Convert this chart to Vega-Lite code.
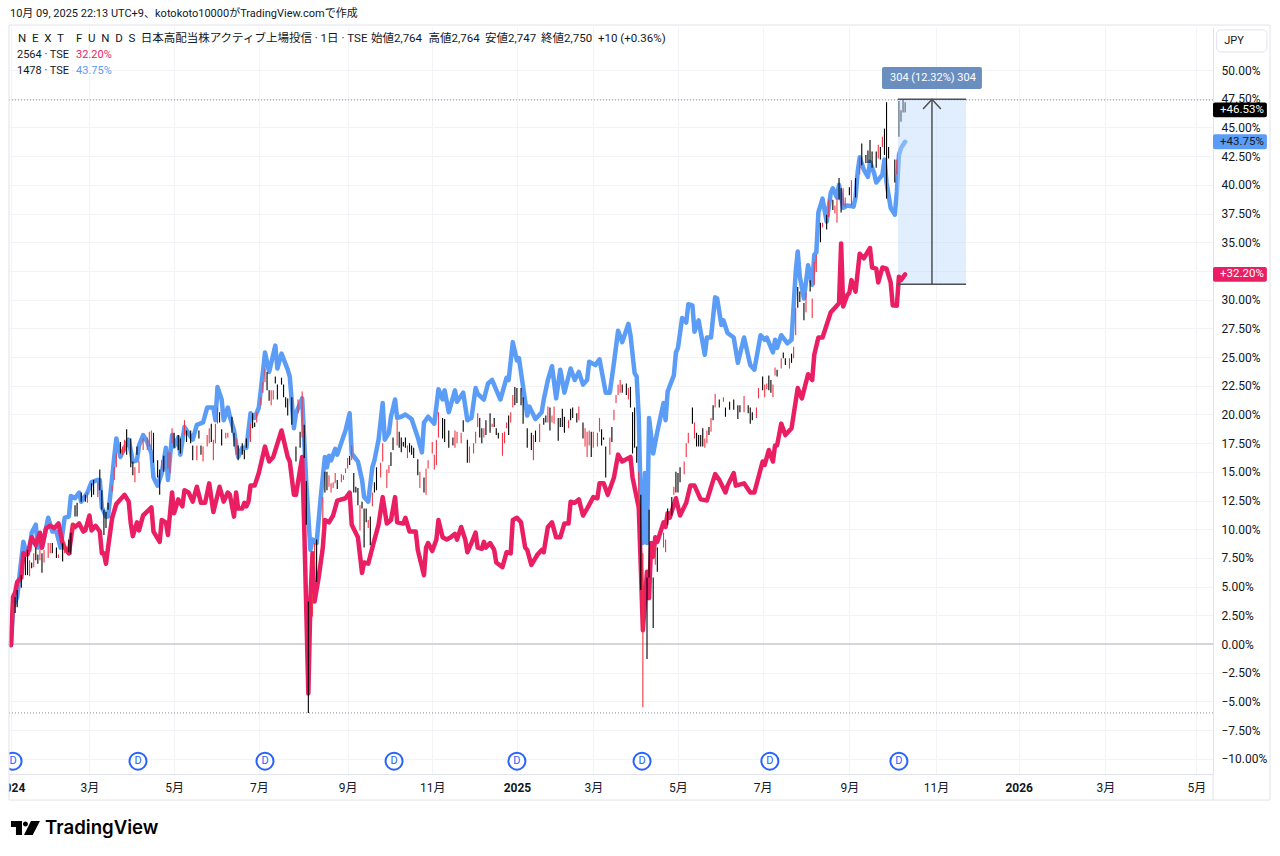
{
  "$schema": "https://vega.github.io/schema/vega-lite/v6.json",
  "width": 1204,
  "height": 747,
  "autosize": {"type": "none"},
  "padding": {"left": 9, "top": 27, "right": 67, "bottom": 82},
  "background": "white",
  "datasets": {
    "s2564": [
      {"session":0,"pct":-0.1},{"session":1,"pct":4.1},{"session":2,"pct":4.5},{"session":3,"pct":5.4},{"session":5,"pct":5.8},{"session":6,"pct":7.9},{"session":8,"pct":7.8},{"session":10,"pct":9.3},{"session":12,"pct":8.6},{"session":14,"pct":9.7},{"session":15,"pct":8.4},{"session":17,"pct":10.1},{"session":19,"pct":10.3},{"session":21,"pct":10.1},{"session":23,"pct":10.5},{"session":25,"pct":8.8},{"session":26,"pct":8.4},{"session":28,"pct":7.9},{"session":30,"pct":10.4},{"session":31,"pct":10.2},{"session":33,"pct":10.5},{"session":35,"pct":9.8},{"session":36,"pct":9.9},{"session":38,"pct":11.2},{"session":39,"pct":9.9},{"session":41,"pct":10.3},{"session":43,"pct":9.8},{"session":44,"pct":7.9},{"session":45,"pct":7.9},{"session":46,"pct":7.0},{"session":47,"pct":8.4},{"session":49,"pct":11.0},{"session":51,"pct":12.2},{"session":55,"pct":13.0},{"session":57,"pct":12.4},{"session":58,"pct":10.5},{"session":59,"pct":9.4},{"session":61,"pct":10.6},{"session":62,"pct":9.9},{"session":64,"pct":11.2},{"session":68,"pct":11.9},{"session":69,"pct":9.8},{"session":72,"pct":8.9},{"session":73,"pct":10.8},{"session":75,"pct":10.6},{"session":76,"pct":9.5},{"session":78,"pct":13.2},{"session":79,"pct":11.4},{"session":81,"pct":12.6},{"session":83,"pct":12.0},{"session":84,"pct":13.4},{"session":86,"pct":13.2},{"session":88,"pct":12.4},{"session":90,"pct":13.7},{"session":92,"pct":12.3},{"session":94,"pct":12.3},{"session":96,"pct":14.0},{"session":98,"pct":11.5},{"session":101,"pct":13.7},{"session":103,"pct":12.4},{"session":105,"pct":13.2},{"session":106,"pct":13.0},{"session":108,"pct":11.1},{"session":109,"pct":13.2},{"session":110,"pct":11.8},{"session":112,"pct":11.8},{"session":113,"pct":12.3},{"session":114,"pct":12.0},{"session":115,"pct":12.4},{"session":116,"pct":13.8},{"session":118,"pct":13.8},{"session":120,"pct":14.9},{"session":123,"pct":17.2},{"session":125,"pct":15.9},{"session":127,"pct":16.3},{"session":131,"pct":18.6},{"session":134,"pct":16.3},{"session":135,"pct":15.9},{"session":137,"pct":13.0},{"session":138,"pct":13.0},{"session":141,"pct":16.3},{"session":142,"pct":10.2},{"session":144,"pct":-4.3},{"session":145,"pct":3.8},{"session":146,"pct":7.9},{"session":147,"pct":3.7},{"session":149,"pct":5.8},{"session":151,"pct":8.4},{"session":152,"pct":10.8},{"session":154,"pct":10.6},{"session":156,"pct":11.2},{"session":158,"pct":12.5},{"session":162,"pct":12.7},{"session":164,"pct":13.2},{"session":165,"pct":10.4},{"session":168,"pct":9.3},{"session":170,"pct":6.2},{"session":171,"pct":7.1},{"session":173,"pct":7.0},{"session":175,"pct":8.4},{"session":178,"pct":10.4},{"session":180,"pct":12.8},{"session":182,"pct":10.5},{"session":184,"pct":10.8},{"session":186,"pct":12.8},{"session":187,"pct":10.6},{"session":190,"pct":10.5},{"session":191,"pct":11.0},{"session":193,"pct":9.8},{"session":196,"pct":9.8},{"session":197,"pct":8.2},{"session":200,"pct":6.0},{"session":201,"pct":8.4},{"session":202,"pct":8.8},{"session":204,"pct":8.1},{"session":206,"pct":9.1},{"session":207,"pct":10.8},{"session":209,"pct":9.3},{"session":211,"pct":9.1},{"session":213,"pct":9.3},{"session":215,"pct":9.6},{"session":216,"pct":9.1},{"session":218,"pct":10.2},{"session":220,"pct":9.1},{"session":221,"pct":8.0},{"session":223,"pct":8.8},{"session":225,"pct":9.7},{"session":226,"pct":8.4},{"session":228,"pct":8.3},{"session":229,"pct":8.9},{"session":230,"pct":8.4},{"session":232,"pct":8.8},{"session":234,"pct":8.2},{"session":235,"pct":7.1},{"session":238,"pct":6.7},{"session":240,"pct":8.0},{"session":242,"pct":7.9},{"session":243,"pct":10.8},{"session":245,"pct":11.0},{"session":247,"pct":10.6},{"session":249,"pct":8.4},{"session":250,"pct":8.2},{"session":252,"pct":6.9},{"session":255,"pct":7.8},{"session":257,"pct":8.2},{"session":258,"pct":8.0},{"session":260,"pct":10.2},{"session":262,"pct":10.6},{"session":264,"pct":9.3},{"session":266,"pct":9.3},{"session":268,"pct":10.5},{"session":270,"pct":10.5},{"session":271,"pct":12.4},{"session":273,"pct":12.3},{"session":275,"pct":12.6},{"session":277,"pct":11.2},{"session":279,"pct":11.8},{"session":282,"pct":12.8},{"session":284,"pct":12.7},{"session":285,"pct":14.0},{"session":287,"pct":14.0},{"session":289,"pct":13.0},{"session":292,"pct":14.5},{"session":294,"pct":16.5},{"session":296,"pct":15.9},{"session":300,"pct":16.3},{"session":301,"pct":14.5},{"session":304,"pct":11.9},{"session":305,"pct":6.7},{"session":306,"pct":1.2},{"session":308,"pct":6.3},{"session":309,"pct":4.0},{"session":310,"pct":8.8},{"session":311,"pct":7.6},{"session":312,"pct":9.3},{"session":313,"pct":8.9},{"session":316,"pct":10.6},{"session":317,"pct":10.2},{"session":318,"pct":11.4},{"session":319,"pct":11.0},{"session":322,"pct":12.7},{"session":324,"pct":11.2},{"session":327,"pct":12.3},{"session":329,"pct":13.8},{"session":331,"pct":13.8},{"session":334,"pct":12.6},{"session":337,"pct":12.5},{"session":341,"pct":14.8},{"session":343,"pct":14.3},{"session":346,"pct":13.2},{"session":347,"pct":13.8},{"session":350,"pct":14.9},{"session":351,"pct":13.8},{"session":355,"pct":14.0},{"session":358,"pct":13.2},{"session":360,"pct":13.2},{"session":364,"pct":15.9},{"session":365,"pct":15.6},{"session":367,"pct":16.9},{"session":369,"pct":15.9},{"session":370,"pct":17.3},{"session":371,"pct":17.3},{"session":373,"pct":19.2},{"session":375,"pct":18.2},{"session":378,"pct":18.8},{"session":381,"pct":22.3},{"session":383,"pct":21.4},{"session":386,"pct":23.5},{"session":388,"pct":23.0},{"session":389,"pct":25.2},{"session":391,"pct":26.7},{"session":393,"pct":26.7},{"session":397,"pct":28.9},{"session":400,"pct":29.5},{"session":401,"pct":29.7},{"session":402,"pct":34.9},{"session":403,"pct":29.4},{"session":405,"pct":30.4},{"session":406,"pct":30.6},{"session":407,"pct":31.7},{"session":409,"pct":30.7},{"session":411,"pct":34.0},{"session":413,"pct":33.6},{"session":416,"pct":34.5},{"session":417,"pct":32.8},{"session":419,"pct":32.7},{"session":420,"pct":31.5},{"session":422,"pct":32.8},{"session":424,"pct":32.7},{"session":426,"pct":31.5},{"session":427,"pct":29.5},{"session":429,"pct":29.5},{"session":430,"pct":32.0},{"session":431,"pct":31.7},{"session":433,"pct":32.2}
    ],
    "s1478": [
      {"session":0,"pct":-0.1},{"session":1,"pct":3.2},{"session":3,"pct":4.1},{"session":4,"pct":5.8},{"session":6,"pct":8.9},{"session":7,"pct":8.2},{"session":9,"pct":8.2},{"session":10,"pct":9.7},{"session":12,"pct":10.4},{"session":13,"pct":8.4},{"session":15,"pct":8.4},{"session":18,"pct":11.0},{"session":20,"pct":9.8},{"session":22,"pct":9.8},{"session":24,"pct":8.4},{"session":26,"pct":11.0},{"session":28,"pct":11.1},{"session":29,"pct":12.9},{"session":31,"pct":12.7},{"session":33,"pct":13.2},{"session":34,"pct":12.4},{"session":37,"pct":13.2},{"session":39,"pct":14.1},{"session":42,"pct":14.3},{"session":43,"pct":14.3},{"session":44,"pct":11.9},{"session":46,"pct":11.1},{"session":47,"pct":11.1},{"session":49,"pct":14.5},{"session":50,"pct":16.3},{"session":51,"pct":17.9},{"session":53,"pct":16.3},{"session":55,"pct":17.1},{"session":57,"pct":17.8},{"session":59,"pct":15.9},{"session":61,"pct":16.0},{"session":62,"pct":17.3},{"session":64,"pct":18.2},{"session":66,"pct":17.6},{"session":68,"pct":16.6},{"session":69,"pct":14.5},{"session":71,"pct":13.8},{"session":73,"pct":14.9},{"session":75,"pct":17.1},{"session":76,"pct":14.3},{"session":78,"pct":18.2},{"session":79,"pct":17.2},{"session":81,"pct":18.0},{"session":82,"pct":16.5},{"session":84,"pct":18.9},{"session":88,"pct":17.8},{"session":90,"pct":19.1},{"session":93,"pct":19.3},{"session":95,"pct":20.6},{"session":98,"pct":20.6},{"session":99,"pct":19.5},{"session":100,"pct":22.4},{"session":102,"pct":21.3},{"session":103,"pct":19.5},{"session":105,"pct":20.6},{"session":106,"pct":19.8},{"session":108,"pct":18.6},{"session":110,"pct":16.3},{"session":112,"pct":17.1},{"session":114,"pct":17.1},{"session":116,"pct":20.1},{"session":118,"pct":19.7},{"session":120,"pct":20.6},{"session":122,"pct":23.7},{"session":123,"pct":25.4},{"session":125,"pct":23.7},{"session":128,"pct":26.0},{"session":129,"pct":24.0},{"session":131,"pct":25.3},{"session":134,"pct":23.9},{"session":135,"pct":23.3},{"session":137,"pct":18.8},{"session":138,"pct":20.1},{"session":141,"pct":21.4},{"session":142,"pct":17.8},{"session":143,"pct":14.0},{"session":145,"pct":8.2},{"session":146,"pct":9.1},{"session":148,"pct":8.8},{"session":150,"pct":12.8},{"session":152,"pct":16.3},{"session":153,"pct":15.4},{"session":154,"pct":16.4},{"session":155,"pct":16.0},{"session":157,"pct":17.0},{"session":158,"pct":16.5},{"session":162,"pct":18.6},{"session":164,"pct":20.1},{"session":165,"pct":16.6},{"session":168,"pct":15.9},{"session":170,"pct":14.3},{"session":171,"pct":12.8},{"session":173,"pct":12.4},{"session":175,"pct":15.4},{"session":176,"pct":16.0},{"session":178,"pct":17.8},{"session":180,"pct":21.0},{"session":181,"pct":17.8},{"session":183,"pct":18.4},{"session":184,"pct":19.8},{"session":186,"pct":21.3},{"session":187,"pct":19.7},{"session":189,"pct":19.8},{"session":191,"pct":20.0},{"session":194,"pct":19.6},{"session":197,"pct":18.0},{"session":199,"pct":16.7},{"session":200,"pct":19.3},{"session":202,"pct":19.8},{"session":205,"pct":19.2},{"session":207,"pct":22.2},{"session":209,"pct":21.3},{"session":210,"pct":22.1},{"session":212,"pct":20.2},{"session":215,"pct":22.1},{"session":216,"pct":21.1},{"session":219,"pct":21.9},{"session":221,"pct":19.5},{"session":223,"pct":19.7},{"session":225,"pct":22.3},{"session":226,"pct":21.8},{"session":229,"pct":21.3},{"session":231,"pct":22.7},{"session":233,"pct":23.0},{"session":237,"pct":21.3},{"session":240,"pct":23.2},{"session":241,"pct":23.0},{"session":243,"pct":26.3},{"session":245,"pct":24.7},{"session":246,"pct":24.9},{"session":250,"pct":19.9},{"session":251,"pct":20.7},{"session":254,"pct":19.6},{"session":257,"pct":20.2},{"session":258,"pct":21.3},{"session":260,"pct":23.0},{"session":262,"pct":24.2},{"session":264,"pct":21.4},{"session":266,"pct":23.9},{"session":268,"pct":21.9},{"session":271,"pct":24.0},{"session":273,"pct":23.0},{"session":275,"pct":23.7},{"session":277,"pct":22.6},{"session":279,"pct":23.0},{"session":280,"pct":24.6},{"session":283,"pct":24.3},{"session":285,"pct":24.8},{"session":288,"pct":21.9},{"session":290,"pct":21.9},{"session":292,"pct":24.5},{"session":294,"pct":27.3},{"session":296,"pct":26.3},{"session":299,"pct":27.9},{"session":300,"pct":26.9},{"session":302,"pct":23.6},{"session":303,"pct":23.3},{"session":304,"pct":19.8},{"session":305,"pct":12.0},{"session":306,"pct":8.8},{"session":307,"pct":14.9},{"session":308,"pct":8.8},{"session":309,"pct":19.7},{"session":311,"pct":16.6},{"session":313,"pct":18.5},{"session":316,"pct":21.0},{"session":317,"pct":19.5},{"session":318,"pct":22.0},{"session":321,"pct":23.4},{"session":322,"pct":25.4},{"session":323,"pct":25.8},{"session":325,"pct":28.4},{"session":327,"pct":28.0},{"session":328,"pct":29.6},{"session":330,"pct":29.5},{"session":331,"pct":27.2},{"session":333,"pct":28.2},{"session":336,"pct":25.2},{"session":337,"pct":26.7},{"session":339,"pct":26.7},{"session":341,"pct":30.2},{"session":342,"pct":30.1},{"session":344,"pct":27.8},{"session":345,"pct":28.2},{"session":347,"pct":27.1},{"session":350,"pct":26.7},{"session":352,"pct":24.5},{"session":355,"pct":26.7},{"session":358,"pct":24.3},{"session":360,"pct":23.9},{"session":363,"pct":26.9},{"session":365,"pct":26.5},{"session":366,"pct":26.7},{"session":369,"pct":25.4},{"session":370,"pct":26.5},{"session":371,"pct":25.8},{"session":373,"pct":26.9},{"session":376,"pct":26.2},{"session":378,"pct":26.5},{"session":380,"pct":32.4},{"session":381,"pct":34.2},{"session":382,"pct":32.0},{"session":384,"pct":30.1},{"session":386,"pct":33.0},{"session":388,"pct":31.3},{"session":389,"pct":33.9},{"session":390,"pct":34.1},{"session":391,"pct":37.6},{"session":393,"pct":38.8},{"session":395,"pct":36.8},{"session":397,"pct":39.3},{"session":398,"pct":39.7},{"session":400,"pct":38.9},{"session":401,"pct":40.0},{"session":403,"pct":38.0},{"session":405,"pct":38.2},{"session":408,"pct":38.1},{"session":409,"pct":38.9},{"session":410,"pct":41.1},{"session":411,"pct":42.4},{"session":413,"pct":41.3},{"session":415,"pct":40.7},{"session":416,"pct":42.0},{"session":418,"pct":41.0},{"session":419,"pct":40.2},{"session":422,"pct":40.9},{"session":423,"pct":42.2},{"session":424,"pct":40.2},{"session":426,"pct":38.0},{"session":428,"pct":37.4},{"session":429,"pct":39.4},{"session":430,"pct":42.6},{"session":431,"pct":43.2},{"session":433,"pct":43.75}
    ],
    "nextFunds": [
      {"session":1,"pct":3.6,"pct2":2.1,"tone":"down"},{"session":2,"pct":4.1,"pct2":2.7,"tone":"up"},{"session":3,"pct":4.7,"pct2":3.2,"tone":"up"},{"session":5,"pct":6.0,"pct2":4.9,"tone":"up"},{"session":7,"pct":7.6,"pct2":6.0,"tone":"up"},{"session":8,"pct":8.2,"pct2":6.0,"tone":"up"},{"session":9,"pct":7.3,"pct2":5.9,"tone":"down"},{"session":10,"pct":7.1,"pct2":6.6,"tone":"up"},{"session":11,"pct":7.9,"pct2":6.7,"tone":"down"},{"session":12,"pct":8.4,"pct2":7.3,"tone":"up"},{"session":13,"pct":7.8,"pct2":7.0,"tone":"up"},{"session":14,"pct":8.2,"pct2":7.3,"tone":"down"},{"session":15,"pct":7.9,"pct2":6.2,"tone":"up"},{"session":16,"pct":8.2,"pct2":7.1,"tone":"down"},{"session":18,"pct":8.8,"pct2":7.5,"tone":"down"},{"session":19,"pct":8.8,"pct2":7.9,"tone":"down"},{"session":20,"pct":8.8,"pct2":7.9,"tone":"up"},{"session":22,"pct":8.4,"pct2":7.5,"tone":"up"},{"session":23,"pct":7.8,"pct2":7.5,"tone":"down"},{"session":25,"pct":8.8,"pct2":7.2,"tone":"up"},{"session":26,"pct":8.9,"pct2":7.9,"tone":"down"},{"session":28,"pct":9.1,"pct2":8.0,"tone":"up"},{"session":29,"pct":9.7,"pct2":7.8,"tone":"up"},{"session":30,"pct":10.5,"pct2":9.7,"tone":"down"},{"session":31,"pct":12.1,"pct2":11.1,"tone":"up"},{"session":32,"pct":12.3,"pct2":11.1,"tone":"up"},{"session":34,"pct":13.2,"pct2":12.4,"tone":"up"},{"session":36,"pct":13.0,"pct2":12.4,"tone":"up"},{"session":37,"pct":13.2,"pct2":12.3,"tone":"down"},{"session":39,"pct":14.0,"pct2":12.8,"tone":"up"},{"session":40,"pct":14.3,"pct2":13.0,"tone":"up"},{"session":42,"pct":14.1,"pct2":12.8,"tone":"down"},{"session":43,"pct":15.2,"pct2":13.4,"tone":"up"},{"session":44,"pct":13.4,"pct2":11.7,"tone":"up"},{"session":45,"pct":11.7,"pct2":9.5,"tone":"up"},{"session":46,"pct":11.5,"pct2":10.1,"tone":"up"},{"session":47,"pct":12.3,"pct2":11.7,"tone":"up"},{"session":49,"pct":13.8,"pct2":13.3,"tone":"down"},{"session":50,"pct":15.4,"pct2":14.3,"tone":"down"},{"session":51,"pct":16.6,"pct2":15.4,"tone":"down"},{"session":53,"pct":17.6,"pct2":16.6,"tone":"up"},{"session":54,"pct":17.2,"pct2":16.5,"tone":"down"},{"session":55,"pct":17.8,"pct2":16.7,"tone":"down"},{"session":56,"pct":18.7,"pct2":16.5,"tone":"up"},{"session":58,"pct":17.9,"pct2":15.4,"tone":"up"},{"session":59,"pct":15.9,"pct2":14.7,"tone":"up"},{"session":60,"pct":15.4,"pct2":14.1,"tone":"down"},{"session":61,"pct":17.2,"pct2":16.5,"tone":"up"},{"session":62,"pct":15.9,"pct2":14.9,"tone":"down"},{"session":64,"pct":17.9,"pct2":16.9,"tone":"down"},{"session":66,"pct":18.0,"pct2":16.9,"tone":"down"},{"session":67,"pct":18.5,"pct2":17.2,"tone":"down"},{"session":68,"pct":18.6,"pct2":16.9,"tone":"down"},{"session":69,"pct":18.4,"pct2":15.8,"tone":"up"},{"session":71,"pct":16.0,"pct2":14.5,"tone":"up"},{"session":72,"pct":15.2,"pct2":13.0,"tone":"up"},{"session":73,"pct":16.0,"pct2":15.2,"tone":"down"},{"session":74,"pct":16.4,"pct2":15.0,"tone":"up"},{"session":76,"pct":16.7,"pct2":15.3,"tone":"down"},{"session":77,"pct":16.7,"pct2":14.9,"tone":"down"},{"session":78,"pct":18.8,"pct2":17.5,"tone":"down"},{"session":79,"pct":18.4,"pct2":17.1,"tone":"up"},{"session":81,"pct":18.2,"pct2":16.9,"tone":"up"},{"session":82,"pct":17.9,"pct2":16.6,"tone":"up"},{"session":84,"pct":19.5,"pct2":18.2,"tone":"down"},{"session":85,"pct":18.6,"pct2":17.6,"tone":"up"},{"session":87,"pct":18.6,"pct2":17.5,"tone":"up"},{"session":88,"pct":17.3,"pct2":16.0,"tone":"up"},{"session":90,"pct":17.3,"pct2":16.0,"tone":"down"},{"session":91,"pct":18.6,"pct2":17.9,"tone":"up"},{"session":92,"pct":17.3,"pct2":16.5,"tone":"up"},{"session":93,"pct":17.2,"pct2":15.9,"tone":"down"},{"session":95,"pct":18.2,"pct2":17.2,"tone":"down"},{"session":96,"pct":18.8,"pct2":17.5,"tone":"down"},{"session":97,"pct":19.2,"pct2":17.6,"tone":"up"},{"session":98,"pct":17.8,"pct2":16.0,"tone":"down"},{"session":99,"pct":19.2,"pct2":17.5,"tone":"down"},{"session":100,"pct":20.6,"pct2":19.2,"tone":"down"},{"session":101,"pct":20.2,"pct2":19.3,"tone":"up"},{"session":102,"pct":18.7,"pct2":17.3,"tone":"up"},{"session":104,"pct":18.4,"pct2":17.9,"tone":"down"},{"session":105,"pct":18.4,"pct2":18.0,"tone":"down"},{"session":107,"pct":19.8,"pct2":18.4,"tone":"up"},{"session":108,"pct":18.4,"pct2":17.2,"tone":"up"},{"session":109,"pct":17.9,"pct2":16.5,"tone":"down"},{"session":110,"pct":17.3,"pct2":16.0,"tone":"up"},{"session":112,"pct":17.5,"pct2":16.5,"tone":"up"},{"session":113,"pct":16.9,"pct2":16.1,"tone":"up"},{"session":114,"pct":17.9,"pct2":17.1,"tone":"up"},{"session":116,"pct":19.2,"pct2":17.6,"tone":"down"},{"session":117,"pct":20.1,"pct2":18.8,"tone":"up"},{"session":118,"pct":19.3,"pct2":18.9,"tone":"up"},{"session":119,"pct":20.2,"pct2":19.3,"tone":"down"},{"session":121,"pct":21.5,"pct2":20.8,"tone":"down"},{"session":122,"pct":22.8,"pct2":21.9,"tone":"down"},{"session":123,"pct":24.0,"pct2":22.8,"tone":"down"},{"session":124,"pct":23.7,"pct2":22.1,"tone":"up"},{"session":125,"pct":22.1,"pct2":21.2,"tone":"up"},{"session":126,"pct":22.1,"pct2":20.8,"tone":"down"},{"session":127,"pct":22.1,"pct2":21.3,"tone":"down"},{"session":128,"pct":23.3,"pct2":22.7,"tone":"up"},{"session":129,"pct":22.6,"pct2":21.3,"tone":"up"},{"session":131,"pct":23.2,"pct2":22.6,"tone":"up"},{"session":132,"pct":22.6,"pct2":21.5,"tone":"up"},{"session":133,"pct":21.5,"pct2":20.6,"tone":"up"},{"session":134,"pct":21.4,"pct2":19.9,"tone":"up"},{"session":136,"pct":21.5,"pct2":19.1,"tone":"up"},{"session":138,"pct":17.2,"pct2":15.9,"tone":"up"},{"session":139,"pct":21.3,"pct2":20.1,"tone":"down"},{"session":140,"pct":18.5,"pct2":17.1,"tone":"up"},{"session":141,"pct":22.0,"pct2":18.0,"tone":"down"},{"session":142,"pct":19.1,"pct2":16.2,"tone":"up"},{"session":143,"pct":14.2,"pct2":10.4,"tone":"up"},{"session":144,"pct":3.7,"pct2":-6.0,"tone":"up"},{"session":146,"pct":4.4,"pct2":2.4,"tone":"down"},{"session":147,"pct":8.8,"pct2":6.7,"tone":"down"},{"session":148,"pct":9.1,"pct2":5.4,"tone":"up"},{"session":151,"pct":12.8,"pct2":9.9,"tone":"down"},{"session":152,"pct":15.0,"pct2":13.2,"tone":"up"},{"session":153,"pct":15.0,"pct2":13.4,"tone":"up"},{"session":154,"pct":14.7,"pct2":13.7,"tone":"down"},{"session":155,"pct":14.0,"pct2":13.2,"tone":"down"},{"session":156,"pct":14.1,"pct2":13.6,"tone":"down"},{"session":157,"pct":14.9,"pct2":14.0,"tone":"down"},{"session":158,"pct":14.3,"pct2":13.5,"tone":"up"},{"session":160,"pct":14.8,"pct2":14.1,"tone":"down"},{"session":161,"pct":14.7,"pct2":14.3,"tone":"down"},{"session":162,"pct":15.3,"pct2":14.9,"tone":"down"},{"session":163,"pct":16.2,"pct2":15.3,"tone":"down"},{"session":164,"pct":16.4,"pct2":15.6,"tone":"up"},{"session":165,"pct":17.3,"pct2":16.0,"tone":"down"},{"session":166,"pct":14.9,"pct2":13.2,"tone":"up"},{"session":167,"pct":13.7,"pct2":13.2,"tone":"up"},{"session":168,"pct":13.6,"pct2":12.1,"tone":"up"},{"session":169,"pct":12.1,"pct2":9.9,"tone":"down"},{"session":170,"pct":12.4,"pct2":11.8,"tone":"up"},{"session":171,"pct":11.8,"pct2":8.4,"tone":"up"},{"session":172,"pct":11.8,"pct2":10.6,"tone":"up"},{"session":173,"pct":10.8,"pct2":10.1,"tone":"down"},{"session":174,"pct":11.1,"pct2":8.6,"tone":"up"},{"session":175,"pct":13.2,"pct2":12.0,"tone":"down"},{"session":176,"pct":14.1,"pct2":13.2,"tone":"up"},{"session":177,"pct":15.4,"pct2":13.4,"tone":"up"},{"session":179,"pct":15.8,"pct2":14.5,"tone":"down"},{"session":180,"pct":17.5,"pct2":15.9,"tone":"down"},{"session":182,"pct":15.2,"pct2":13.6,"tone":"down"},{"session":183,"pct":15.6,"pct2":14.9,"tone":"down"},{"session":184,"pct":16.7,"pct2":15.5,"tone":"up"},{"session":185,"pct":18.0,"pct2":16.9,"tone":"up"},{"session":187,"pct":19.5,"pct2":17.3,"tone":"down"},{"session":188,"pct":18.5,"pct2":17.1,"tone":"up"},{"session":189,"pct":18.0,"pct2":16.7,"tone":"up"},{"session":190,"pct":17.6,"pct2":17.2,"tone":"up"},{"session":191,"pct":18.0,"pct2":17.1,"tone":"up"},{"session":192,"pct":17.3,"pct2":16.2,"tone":"down"},{"session":193,"pct":17.5,"pct2":16.7,"tone":"up"},{"session":194,"pct":17.3,"pct2":16.5,"tone":"up"},{"session":195,"pct":17.1,"pct2":16.2,"tone":"up"},{"session":197,"pct":16.1,"pct2":14.7,"tone":"up"},{"session":198,"pct":15.0,"pct2":13.6,"tone":"down"},{"session":200,"pct":14.5,"pct2":13.2,"tone":"up"},{"session":201,"pct":15.3,"pct2":13.0,"tone":"down"},{"session":202,"pct":16.0,"pct2":15.3,"tone":"down"},{"session":204,"pct":17.6,"pct2":16.6,"tone":"down"},{"session":205,"pct":16.5,"pct2":15.2,"tone":"down"},{"session":206,"pct":17.8,"pct2":15.6,"tone":"down"},{"session":207,"pct":20.2,"pct2":18.0,"tone":"down"},{"session":209,"pct":19.7,"pct2":17.9,"tone":"up"},{"session":210,"pct":19.6,"pct2":17.6,"tone":"up"},{"session":212,"pct":18.6,"pct2":17.1,"tone":"up"},{"session":214,"pct":18.0,"pct2":17.3,"tone":"up"},{"session":215,"pct":18.6,"pct2":17.1,"tone":"down"},{"session":216,"pct":18.5,"pct2":17.5,"tone":"down"},{"session":218,"pct":18.4,"pct2":17.5,"tone":"down"},{"session":219,"pct":19.5,"pct2":18.5,"tone":"up"},{"session":221,"pct":17.8,"pct2":15.8,"tone":"up"},{"session":222,"pct":17.2,"pct2":15.8,"tone":"down"},{"session":224,"pct":17.5,"pct2":16.6,"tone":"down"},{"session":225,"pct":18.5,"pct2":17.5,"tone":"down"},{"session":226,"pct":20.1,"pct2":18.9,"tone":"down"},{"session":227,"pct":19.7,"pct2":18.0,"tone":"up"},{"session":228,"pct":18.8,"pct2":17.5,"tone":"up"},{"session":229,"pct":18.8,"pct2":18.0,"tone":"down"},{"session":230,"pct":19.5,"pct2":18.2,"tone":"up"},{"session":232,"pct":20.1,"pct2":18.4,"tone":"up"},{"session":233,"pct":19.2,"pct2":18.9,"tone":"down"},{"session":234,"pct":19.7,"pct2":18.9,"tone":"up"},{"session":235,"pct":18.8,"pct2":18.2,"tone":"up"},{"session":236,"pct":18.4,"pct2":17.9,"tone":"up"},{"session":238,"pct":18.4,"pct2":16.4,"tone":"down"},{"session":239,"pct":18.5,"pct2":17.5,"tone":"down"},{"session":240,"pct":19.3,"pct2":18.8,"tone":"down"},{"session":241,"pct":19.9,"pct2":18.2,"tone":"up"},{"session":242,"pct":20.2,"pct2":19.3,"tone":"down"},{"session":243,"pct":21.7,"pct2":20.6,"tone":"down"},{"session":244,"pct":22.4,"pct2":20.8,"tone":"up"},{"session":245,"pct":22.3,"pct2":21.0,"tone":"up"},{"session":247,"pct":22.3,"pct2":20.8,"tone":"up"},{"session":248,"pct":21.5,"pct2":19.2,"tone":"up"},{"session":250,"pct":18.8,"pct2":17.1,"tone":"up"},{"session":252,"pct":18.4,"pct2":16.9,"tone":"up"},{"session":253,"pct":18.2,"pct2":16.0,"tone":"down"},{"session":254,"pct":18.6,"pct2":17.6,"tone":"up"},{"session":256,"pct":19.2,"pct2":17.6,"tone":"down"},{"session":258,"pct":19.7,"pct2":19.1,"tone":"up"},{"session":259,"pct":19.9,"pct2":19.3,"tone":"up"},{"session":260,"pct":20.7,"pct2":19.3,"tone":"down"},{"session":261,"pct":20.6,"pct2":18.6,"tone":"up"},{"session":262,"pct":19.9,"pct2":19.3,"tone":"down"},{"session":263,"pct":20.7,"pct2":19.2,"tone":"down"},{"session":265,"pct":19.7,"pct2":17.7,"tone":"up"},{"session":266,"pct":19.7,"pct2":18.9,"tone":"up"},{"session":267,"pct":20.5,"pct2":18.9,"tone":"up"},{"session":268,"pct":19.8,"pct2":18.4,"tone":"up"},{"session":270,"pct":19.5,"pct2":18.8,"tone":"down"},{"session":271,"pct":20.5,"pct2":19.5,"tone":"up"},{"session":272,"pct":20.6,"pct2":19.7,"tone":"up"},{"session":274,"pct":20.1,"pct2":19.3,"tone":"up"},{"session":275,"pct":20.7,"pct2":19.5,"tone":"down"},{"session":277,"pct":19.3,"pct2":17.9,"tone":"up"},{"session":278,"pct":18.8,"pct2":17.2,"tone":"down"},{"session":279,"pct":18.5,"pct2":16.3,"tone":"down"},{"session":280,"pct":18.6,"pct2":17.3,"tone":"down"},{"session":281,"pct":18.5,"pct2":16.3,"tone":"up"},{"session":282,"pct":18.5,"pct2":17.1,"tone":"down"},{"session":284,"pct":18.4,"pct2":17.2,"tone":"down"},{"session":285,"pct":19.7,"pct2":18.5,"tone":"down"},{"session":286,"pct":18.7,"pct2":17.3,"tone":"up"},{"session":287,"pct":18.0,"pct2":17.8,"tone":"up"},{"session":288,"pct":17.2,"pct2":14.5,"tone":"up"},{"session":290,"pct":18.0,"pct2":16.5,"tone":"down"},{"session":291,"pct":18.9,"pct2":17.6,"tone":"up"},{"session":292,"pct":20.4,"pct2":19.5,"tone":"down"},{"session":293,"pct":21.7,"pct2":21.0,"tone":"down"},{"session":294,"pct":22.6,"pct2":21.7,"tone":"down"},{"session":295,"pct":23.0,"pct2":21.9,"tone":"down"},{"session":296,"pct":22.6,"pct2":21.9,"tone":"up"},{"session":298,"pct":22.7,"pct2":21.7,"tone":"up"},{"session":299,"pct":22.3,"pct2":21.3,"tone":"down"},{"session":300,"pct":22.4,"pct2":20.6,"tone":"up"},{"session":301,"pct":20.2,"pct2":16.6,"tone":"up"},{"session":302,"pct":20.6,"pct2":17.1,"tone":"up"},{"session":303,"pct":17.2,"pct2":15.8,"tone":"up"},{"session":304,"pct":15.0,"pct2":11.7,"tone":"down"},{"session":305,"pct":13.0,"pct2":4.7,"tone":"up"},{"session":306,"pct":7.9,"pct2":-5.5,"tone":"down"},{"session":308,"pct":5.8,"pct2":-1.3,"tone":"up"},{"session":309,"pct":11.7,"pct2":5.8,"tone":"up"},{"session":311,"pct":5.8,"pct2":1.4,"tone":"up"},{"session":312,"pct":8.6,"pct2":6.9,"tone":"down"},{"session":313,"pct":8.4,"pct2":6.3,"tone":"up"},{"session":316,"pct":9.7,"pct2":8.4,"tone":"down"},{"session":317,"pct":9.1,"pct2":8.0,"tone":"down"},{"session":318,"pct":11.8,"pct2":10.4,"tone":"up"},{"session":320,"pct":12.8,"pct2":11.2,"tone":"up"},{"session":321,"pct":13.7,"pct2":13.0,"tone":"down"},{"session":322,"pct":15.0,"pct2":13.2,"tone":"up"},{"session":323,"pct":14.9,"pct2":13.2,"tone":"up"},{"session":324,"pct":15.4,"pct2":14.1,"tone":"up"},{"session":326,"pct":15.9,"pct2":14.8,"tone":"down"},{"session":327,"pct":17.5,"pct2":16.3,"tone":"down"},{"session":328,"pct":18.4,"pct2":17.5,"tone":"down"},{"session":330,"pct":20.6,"pct2":19.2,"tone":"up"},{"session":331,"pct":19.3,"pct2":17.9,"tone":"down"},{"session":332,"pct":18.4,"pct2":17.2,"tone":"up"},{"session":333,"pct":18.2,"pct2":17.2,"tone":"up"},{"session":334,"pct":18.2,"pct2":17.2,"tone":"up"},{"session":335,"pct":18.8,"pct2":17.2,"tone":"up"},{"session":336,"pct":17.9,"pct2":17.1,"tone":"down"},{"session":337,"pct":18.6,"pct2":17.5,"tone":"down"},{"session":338,"pct":18.9,"pct2":18.2,"tone":"up"},{"session":339,"pct":19.7,"pct2":18.5,"tone":"down"},{"session":340,"pct":20.8,"pct2":19.5,"tone":"up"},{"session":341,"pct":21.8,"pct2":20.6,"tone":"down"},{"session":343,"pct":21.3,"pct2":20.6,"tone":"up"},{"session":345,"pct":21.5,"pct2":21.1,"tone":"down"},{"session":346,"pct":20.6,"pct2":19.8,"tone":"up"},{"session":348,"pct":21.1,"pct2":20.4,"tone":"up"},{"session":350,"pct":21.3,"pct2":20.4,"tone":"up"},{"session":352,"pct":20.8,"pct2":19.6,"tone":"up"},{"session":353,"pct":20.8,"pct2":20.2,"tone":"up"},{"session":355,"pct":21.6,"pct2":20.2,"tone":"down"},{"session":357,"pct":20.8,"pct2":20.1,"tone":"up"},{"session":358,"pct":20.6,"pct2":19.2,"tone":"up"},{"session":359,"pct":20.2,"pct2":19.5,"tone":"up"},{"session":361,"pct":20.6,"pct2":19.7,"tone":"down"},{"session":362,"pct":22.3,"pct2":21.4,"tone":"down"},{"session":364,"pct":23.3,"pct2":22.1,"tone":"up"},{"session":365,"pct":22.6,"pct2":21.5,"tone":"down"},{"session":366,"pct":22.7,"pct2":22.2,"tone":"down"},{"session":367,"pct":23.4,"pct2":22.1,"tone":"up"},{"session":368,"pct":23.0,"pct2":21.9,"tone":"up"},{"session":369,"pct":22.6,"pct2":21.5,"tone":"down"},{"session":370,"pct":24.1,"pct2":23.4,"tone":"down"},{"session":371,"pct":23.9,"pct2":23.3,"tone":"up"},{"session":373,"pct":24.9,"pct2":24.0,"tone":"down"},{"session":374,"pct":25.4,"pct2":24.9,"tone":"up"},{"session":375,"pct":24.9,"pct2":24.3,"tone":"up"},{"session":377,"pct":24.9,"pct2":24.0,"tone":"down"},{"session":378,"pct":25.3,"pct2":24.5,"tone":"up"},{"session":379,"pct":25.9,"pct2":24.9,"tone":"down"},{"session":380,"pct":29.3,"pct2":26.9,"tone":"down"},{"session":381,"pct":31.1,"pct2":29.3,"tone":"up"},{"session":382,"pct":30.7,"pct2":29.8,"tone":"up"},{"session":384,"pct":29.7,"pct2":28.2,"tone":"up"},{"session":385,"pct":30.6,"pct2":28.9,"tone":"down"},{"session":387,"pct":31.7,"pct2":30.7,"tone":"up"},{"session":388,"pct":30.1,"pct2":28.4,"tone":"down"},{"session":389,"pct":33.3,"pct2":31.3,"tone":"down"},{"session":390,"pct":33.9,"pct2":32.4,"tone":"down"},{"session":392,"pct":36.7,"pct2":35.0,"tone":"up"},{"session":393,"pct":36.7,"pct2":36.3,"tone":"down"},{"session":395,"pct":37.4,"pct2":36.1,"tone":"up"},{"session":396,"pct":38.7,"pct2":37.2,"tone":"down"},{"session":398,"pct":38.7,"pct2":37.8,"tone":"up"},{"session":399,"pct":38.2,"pct2":37.5,"tone":"down"},{"session":400,"pct":38.8,"pct2":36.7,"tone":"down"},{"session":401,"pct":40.6,"pct2":38.7,"tone":"up"},{"session":402,"pct":39.7,"pct2":37.6,"tone":"up"},{"session":403,"pct":39.7,"pct2":38.2,"tone":"down"},{"session":404,"pct":38.9,"pct2":38.1,"tone":"down"},{"session":406,"pct":39.8,"pct2":39.1,"tone":"up"},{"session":407,"pct":40.4,"pct2":38.2,"tone":"down"},{"session":409,"pct":40.6,"pct2":38.9,"tone":"up"},{"session":411,"pct":42.4,"pct2":40.9,"tone":"down"},{"session":412,"pct":43.6,"pct2":41.7,"tone":"up"},{"session":414,"pct":42.6,"pct2":41.9,"tone":"up"},{"session":415,"pct":43.0,"pct2":41.9,"tone":"up"},{"session":416,"pct":43.9,"pct2":41.9,"tone":"up"},{"session":417,"pct":42.9,"pct2":41.5,"tone":"up"},{"session":419,"pct":42.9,"pct2":41.5,"tone":"up"},{"session":420,"pct":43.5,"pct2":42.3,"tone":"down"},{"session":421,"pct":43.3,"pct2":42.2,"tone":"up"},{"session":422,"pct":44.2,"pct2":43.3,"tone":"down"},{"session":423,"pct":44.9,"pct2":42.6,"tone":"up"},{"session":424,"pct":47.2,"pct2":38.8,"tone":"up"},{"session":425,"pct":43.3,"pct2":42.3,"tone":"up"},{"session":428,"pct":42.2,"pct2":40.2,"tone":"up"},{"session":429,"pct":42.2,"pct2":40.9,"tone":"down"},{"session":430,"pct":47.3,"pct2":44.2,"tone":"up"},{"session":431,"pct":46.5,"pct2":45.5,"tone":"up"},{"session":432,"pct":47.4,"pct2":46.3,"tone":"up"},{"session":433,"pct":47.2,"pct2":46.3,"tone":"up"}
    ],
    "dividends": [
      {"session":1,"pct":-10.2},{"session":61.5,"pct":-10.2},{"session":123,"pct":-10.2},{"session":185.5,"pct":-10.2},{"session":245,"pct":-10.2},{"session":305.6,"pct":-10.2},{"session":367.5,"pct":-10.2},{"session":430,"pct":-10.2}
    ],
    "boxes": [
      {"session":582.1,"session2":608.2,"pct":47.18,"pct2":45.88,"tone":"up"},
      {"session":582.1,"session2":608.2,"pct":44.4,"pct2":43.1,"tone":"blue"},
      {"session":582.1,"session2":608.2,"pct":32.85,"pct2":31.55,"tone":"red"},
      {"session":421.8,"session2":470.2,"pct":50.26,"pct2":48.34,"tone":"bubble"}
    ],
    "smallLabels": [
      {"session":-0.5,"pct":54.87,"label":"10月 09, 2025 22:13 UTC+9、kotokoto10000がTradingView.comで作成","tone":"ink"},
      {"session":2.9,"pct":51.3,"label":"2564 · TSE","tone":"ink"},
      {"session":31.5,"pct":51.3,"label":"32.20%","tone":"red"},
      {"session":2.9,"pct":49.9,"label":"1478 · TSE","tone":"ink"},
      {"session":31.5,"pct":49.9,"label":"43.75%","tone":"blue"},
      {"session":425.7,"pct":49.3,"label":"304 (12.32%) 304","tone":"white"},
      {"session":587.5,"pct":52.5,"label":"JPY","tone":"ink"}
    ],
    "labels": [
      {"session":3.4,"pct":52.7,"label":"N\u00a0\u00a0E\u00a0\u00a0X\u00a0\u00a0T","tone":"ink"},
      {"session":31.5,"pct":52.7,"label":"F\u00a0\u00a0U\u00a0\u00a0N\u00a0\u00a0D\u00a0\u00a0S","tone":"ink"},
      {"session":62.8,"pct":52.7,"label":"日本高配当株アクティブ上場投信 · 1日 · TSE","tone":"ink"},
      {"session":174.3,"pct":52.7,"label":"始値2,764","tone":"ink"},
      {"session":202.2,"pct":52.7,"label":"高値2,764","tone":"ink"},
      {"session":229.6,"pct":52.7,"label":"安値2,747","tone":"ink"},
      {"session":256.7,"pct":52.7,"label":"終値2,750","tone":"ink"},
      {"session":284.3,"pct":52.7,"label":"+10 (+0.36%)","tone":"ink"},
      {"session":585.5,"pct":46.53,"label":"+46.53%","tone":"white"},
      {"session":585.5,"pct":43.75,"label":"+43.75%","tone":"ink"},
      {"session":585.5,"pct":32.2,"label":"+32.20%","tone":"white"}
    ]
  },
  "encoding": {
    "x": {
      "field": "session",
      "type": "quantitative",
      "title": null,
      "scale": {"domain": [-0.97, 582.1], "nice": false, "zero": false},
      "axis": {
        "orient": "bottom",
        "values": [0, 38, 79, 120, 163, 204, 245, 282, 323, 364, 406, 448, 488, 530, 574],
        "labelExpr": "{'0':'2024','38':'3月','79':'5月','120':'7月','163':'9月','204':'11月','245':'2025','282':'3月','323':'5月','364':'7月','406':'9月','448':'11月','488':'2026','530':'3月','574':'5月'}[datum.value]",
        "labelFontWeight": {"condition": {"test": "datum.value == 0 || datum.value == 245 || datum.value == 488", "value": "bold"}, "value": "normal"},
        "labelFont": "Roboto, 'Noto Sans CJK JP'",
        "labelFontSize": 12,
        "labelColor": "#131722",
        "labelPadding": 8,
        "labelOverlap": false,
        "labelBound": false,
        "labelFlush": false,
        "ticks": false,
        "domainColor": "#e0e3eb",
        "grid": true,
        "gridColor": "#f2f3f6"
      }
    },
    "y": {
      "field": "pct",
      "type": "quantitative",
      "title": null,
      "scale": {"domain": [-11.32, 53.75], "nice": false, "zero": false},
      "axis": {
        "orient": "right",
        "values": [-10, -7.5, -5, -2.5, 0, 2.5, 5, 7.5, 10, 12.5, 15, 17.5, 20, 22.5, 25, 27.5, 30, 32.5, 35, 37.5, 40, 42.5, 45, 47.5, 50],
        "labelExpr": "datum.value == 32.5 ? '' : replace(format(datum.value, '.2f'), '-', '−') + '%'",
        "labelFont": "Roboto, 'Noto Sans CJK JP'",
        "labelFontSize": 12,
        "labelColor": "#131722",
        "labelPadding": 8,
        "labelOverlap": false,
        "labelBound": false,
        "ticks": false,
        "domainColor": "#e0e3eb",
        "grid": true,
        "gridColor": "#f2f3f6"
      }
    }
  },
  "layer": [
    {
      "data": {"values": [{"session": -0.97, "session2": 582.1, "pct": 0}]},
      "mark": {"type": "rule", "color": "#c8c9d1", "strokeWidth": 1.5},
      "encoding": {"x2": {"field": "session2"}}
    },
    {
      "data": {"values": [{"session": -0.97, "session2": 582.1, "pct": 47.4}, {"session": -0.97, "session2": 582.1, "pct": -6}]},
      "mark": {"type": "rule", "color": "#8a8d96", "strokeWidth": 1, "strokeDash": [1, 2]},
      "encoding": {"x2": {"field": "session2"}}
    },
    {
      "data": {"name": "s1478"},
      "mark": {"type": "line", "color": "#5b9cf6", "strokeWidth": 4.5, "strokeJoin": "round", "strokeCap": "round"}
    },
    {
      "data": {"name": "s2564"},
      "transform": [{"filter": "datum.session <= 429"}],
      "mark": {"type": "line", "color": "#e91e63", "strokeWidth": 4.5, "strokeJoin": "round", "strokeCap": "round"}
    },
    {
      "data": {"name": "nextFunds"},
      "mark": {"type": "rule", "strokeWidth": 1.1},
      "encoding": {
        "y2": {"field": "pct2"},
        "color": {
          "field": "tone",
          "type": "nominal",
          "legend": null,
          "scale": {
            "domain": ["up", "down", "blue", "red", "bubble", "ink", "white"],
            "range": ["#000000", "#f23645", "#5b9cf6", "#e91e63", "#6a8ebf", "#131722", "#ffffff"]
          }
        }
      }
    },
    {
      "data": {"values": [{"session": 429.5, "session2": 462.5, "pct": 47.45, "pct2": 31.35}]},
      "mark": {"type": "rect", "color": "#bbd9fb", "opacity": 0.45},
      "encoding": {"x2": {"field": "session2"}, "y2": {"field": "pct2"}}
    },
    {
      "data": {"name": "s2564"},
      "transform": [{"filter": "datum.session >= 429"}],
      "mark": {"type": "line", "color": "#e91e63", "strokeWidth": 4.5, "strokeJoin": "round", "strokeCap": "round"}
    },
    {
      "data": {"values": [{"session": 429.5, "session2": 462.5, "pct": 47.45}, {"session": 429.5, "session2": 462.5, "pct": 31.35}]},
      "mark": {"type": "rule", "color": "#4f4f52", "strokeWidth": 1.5},
      "encoding": {"x2": {"field": "session2"}}
    },
    {
      "data": {"values": [{"session": 446, "pct": 47.45, "pct2": 31.35}]},
      "mark": {"type": "rule", "color": "#4f4f52", "strokeWidth": 1.5},
      "encoding": {"y2": {"field": "pct2"}}
    },
    {
      "data": {"values": [{"session": 441.7, "pct": 46.6}, {"session": 446, "pct": 47.45}, {"session": 450.3, "pct": 46.6}]},
      "mark": {"type": "line", "color": "#4f4f52", "strokeWidth": 1.5}
    },
    {
      "data": {"name": "boxes"},
      "mark": {"type": "rect", "cornerRadius": 2},
      "encoding": {
        "x2": {"field": "session2"},
        "y2": {"field": "pct2"},
        "color": {"field": "tone", "type": "nominal", "legend": null}
      }
    },
    {
      "data": {"name": "dividends"},
      "mark": {"type": "point", "shape": "circle", "filled": true, "fill": "white", "stroke": "#2962ff", "strokeWidth": 2, "size": 289, "opacity": 1, "clip": true}
    },
    {
      "data": {"name": "dividends"},
      "mark": {"type": "text", "text": "D", "color": "#2962ff", "font": "Roboto", "fontSize": 11, "clip": true}
    },
    {
      "data": {"values": [{"session": -8, "session2": -1, "pct": -11.4, "pct2": -13.4}]},
      "mark": {"type": "rect", "color": "white"},
      "encoding": {"x2": {"field": "session2"}, "y2": {"field": "pct2"}}
    },
    {
      "data": {"name": "smallLabels"},
      "mark": {"type": "text", "align": "left", "baseline": "middle", "font": "Roboto, 'Noto Sans CJK JP'", "fontSize": 11},
      "encoding": {
        "text": {"field": "label"},
        "color": {"field": "tone", "type": "nominal", "legend": null}
      }
    },
    {
      "data": {"name": "labels"},
      "mark": {"type": "text", "align": "left", "baseline": "middle", "font": "Roboto, 'Noto Sans CJK JP'", "fontSize": 11.5},
      "encoding": {
        "text": {"field": "label"},
        "color": {"field": "tone", "type": "nominal", "legend": null}
      }
    },
    {
      "data": {"values": [{"session": 583.9, "session2": 608.2, "pct": 53.5, "pct2": 51.57}]},
      "mark": {"type": "rect", "fillOpacity": 0, "stroke": "#e0e3eb", "cornerRadius": 4},
      "encoding": {"x2": {"field": "session2"}, "y2": {"field": "pct2"}}
    },
    {
      "data": {"values": [{"session": -0.97, "session2": 609.7, "pct": 53.92, "pct2": -13.59}]},
      "mark": {"type": "rect", "fillOpacity": 0, "stroke": "#e0e3eb"},
      "encoding": {"x2": {"field": "session2"}, "y2": {"field": "pct2"}}
    },
    {
      "data": {"values": [{"session": 582.1, "pct": -11.32, "pct2": -13.59}]},
      "mark": {"type": "rule", "color": "#e0e3eb"},
      "encoding": {"y2": {"field": "pct2"}}
    },
    {
      "data": {"values": [{"session": 7, "pct": -16.03}]},
      "mark": {
        "type": "point",
        "filled": true,
        "color": "#000000",
        "opacity": 1,
        "size": 841,
        "shape": "M-1 -.48 L-.24 -.48 L-.24 .48 L-.655 .48 L-.655 -.07 L-1 -.07 Z M-.17 -.276 A.17 .17 0 1 1 .17 -.276 A.17 .17 0 1 1 -.17 -.276 Z M.38 -.48 L1 -.48 L.5 .48 L-.1 .48 Z"
      }
    },
    {
      "data": {"values": [{"session": 16.5, "pct": -16.03, "label": "TradingView"}]},
      "mark": {"type": "text", "align": "left", "baseline": "middle", "font": "Inter", "fontWeight": 600, "fontSize": 18.6, "color": "#000000"},
      "encoding": {"text": {"field": "label"}}
    }
  ],
  "config": {"view": {"stroke": null}}
}
